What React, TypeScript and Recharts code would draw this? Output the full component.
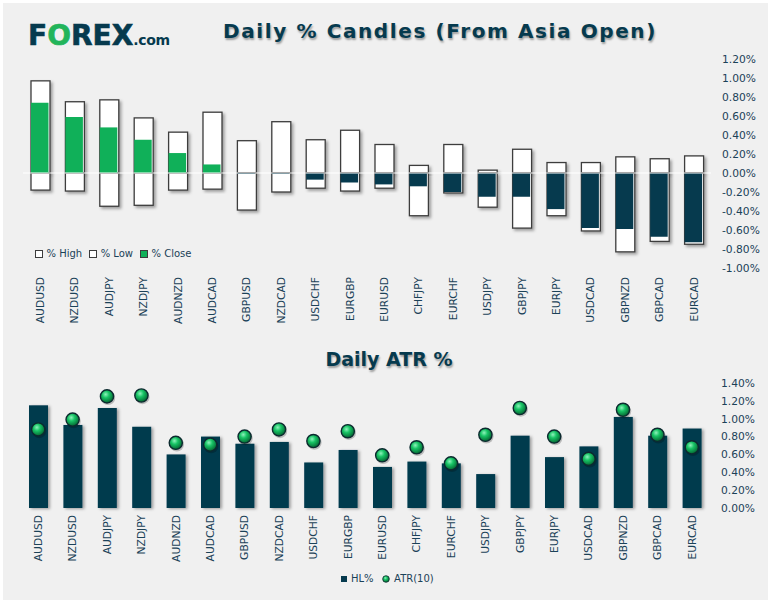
import * as React from "react";
import {
  Bar,
  Cell,
  ComposedChart,
  Legend,
  Line,
  ReferenceLine,
  XAxis,
  YAxis,
} from "recharts";

const PAIRS = [
  "AUDUSD", "NZDUSD", "AUDJPY", "NZDJPY", "AUDNZD", "AUDCAD", "GBPUSD",
  "NZDCAD", "USDCHF", "EURGBP", "EURUSD", "CHFJPY", "EURCHF", "USDJPY",
  "GBPJPY", "EURJPY", "USDCAD", "GBPNZD", "GBPCAD", "EURCAD",
];

// % moves since Asia open
const PCT_HIGH = [0.97, 0.75, 0.77, 0.58, 0.43, 0.64, 0.34, 0.54, 0.35, 0.45, 0.3, 0.08, 0.3, 0.03, 0.25, 0.11, 0.11, 0.17, 0.15, 0.18];
const PCT_LOW = [-0.18, -0.19, -0.35, -0.34, -0.18, -0.17, -0.39, -0.2, -0.16, -0.19, -0.16, -0.45, -0.21, -0.36, -0.58, -0.45, -0.61, -0.83, -0.72, -0.75];
const PCT_CLOSE = [0.74, 0.59, 0.48, 0.35, 0.21, 0.09, -0.01, -0.01, -0.07, -0.1, -0.12, -0.14, -0.2, -0.25, -0.25, -0.38, -0.58, -0.59, -0.67, -0.73];

// daily range vs ATR
const HL_PCT = [1.15, 0.93, 1.12, 0.91, 0.6, 0.8, 0.72, 0.74, 0.51, 0.65, 0.46, 0.52, 0.5, 0.38, 0.81, 0.57, 0.69, 1.02, 0.81, 0.89];
const ATR_10 = [0.88, 0.99, 1.25, 1.26, 0.73, 0.71, 0.8, 0.88, 0.75, 0.86, 0.59, 0.68, 0.5, 0.82, 1.12, 0.8, 0.55, 1.1, 0.82, 0.68];

const CANDLE_TICKS = [1.2, 1.0, 0.8, 0.6, 0.4, 0.2, 0, -0.2, -0.4, -0.6, -0.8, -1.0];
const ATR_TICKS = [0, 0.2, 0.4, 0.6, 0.8, 1.0, 1.2, 1.4];

const TEAL = "#063a4e";
const GREEN = "#10b059";
const TEXT = "#1b4258";
const BG = "#f0f0f0";
const BOX_STROKE = "#3c3c3c";
const FONT = "'DejaVu Sans', sans-serif";

const candleData = PAIRS.map((pair, i) => ({
  pair,
  high: PCT_HIGH[i],
  low: PCT_LOW[i],
  close: PCT_CLOSE[i],
}));

const atrData = PAIRS.map((pair, i) => ({ pair, hl: HL_PCT[i], atr: ATR_10[i] }));

const CANDLE_LEGEND = [
  { label: "% High", fill: "#ffffff" },
  { label: "% Low", fill: "#ffffff" },
  { label: "% Close", fill: GREEN },
];

const fmtPct = (v: number) => `${v.toFixed(2)}%`;

function PairTick(props: any) {
  const { x, y, payload } = props;
  return (
    <text
      transform={`translate(${x},${y}) rotate(-90)`}
      textAnchor="end"
      dy="0.36em"
      fontFamily={FONT}
      fontSize={10.7}
      fill={TEXT}
    >
      {payload.value}
    </text>
  );
}

function boxShape(p: any) {
  const top = Math.min(p.y, p.y + p.height);
  const h = Math.abs(p.height);
  return (
    <rect
      x={p.x}
      y={top}
      width={p.width}
      height={h}
      fill="#ffffff"
      stroke={BOX_STROKE}
      strokeWidth={1.3}
      filter="url(#boxShadow)"
    />
  );
}

function hlShape(p: any) {
  const top = Math.min(p.y, p.y + p.height);
  const h = Math.abs(p.height);
  return <rect x={p.x} y={top} width={p.width} height={h} fill={TEAL} filter="url(#hlShadow)" />;
}

function atrDot(p: any) {
  if (p.cx == null || p.cy == null) return <g key={p.index} />;
  return (
    <g key={`atr-${p.index}`}>
      <circle cx={p.cx + 1} cy={p.cy + 1.5} r={7.2} fill="rgba(0,0,0,0.22)" />
      <circle cx={p.cx} cy={p.cy} r={6.6} fill="url(#sphere)" stroke="#0c2a2f" strokeWidth={1.4} />
    </g>
  );
}

function CandleLegend() {
  return (
    <div style={{ display: "flex", alignItems: "center", fontFamily: FONT, fontSize: 10, color: TEXT, whiteSpace: "nowrap" }}>
      {CANDLE_LEGEND.map((item) => (
        <span key={item.label} style={{ display: "flex", alignItems: "center", marginRight: 7 }}>
          <span
            style={{
              display: "inline-block",
              width: 6,
              height: 6,
              background: item.fill,
              border: `1px solid ${BOX_STROKE}`,
              marginRight: 3.5,
            }}
          />
          {item.label}
        </span>
      ))}
    </div>
  );
}

function AtrLegend() {
  return (
    <div style={{ display: "flex", alignItems: "center", fontFamily: FONT, fontSize: 10, color: TEXT, whiteSpace: "nowrap" }}>
      <span style={{ display: "inline-block", width: 6, height: 6, background: TEAL, marginRight: 4 }} />
      <span style={{ marginRight: 8.5 }}>HL%</span>
      <svg width={8} height={8} style={{ marginRight: 4 }}>
        <defs>
          <radialGradient id="sphereLegend" cx="40%" cy="35%" r="65%">
            <stop offset="0%" stopColor="#8ef2bb" />
            <stop offset="40%" stopColor="#18c465" />
            <stop offset="100%" stopColor="#046632" />
          </radialGradient>
        </defs>
        <circle cx={4} cy={4} r={3.3} fill="url(#sphereLegend)" stroke="#0c2a2f" strokeWidth={0.8} />
      </svg>
      <span>ATR(10)</span>
    </div>
  );
}

const titleStyle: React.CSSProperties = {
  position: "absolute",
  fontFamily: FONT,
  fontWeight: "bold",
  color: TEAL,
  textShadow: "1px 2px 2px rgba(0,0,0,0.35)",
  whiteSpace: "nowrap",
  textAlign: "center",
};

export default function App() {
  return (
    <div style={{ position: "absolute", left: 0, top: 0, width: 772, height: 603, background: "#ffffff", overflow: "hidden" }}>
      <div style={{ position: "absolute", left: 3, top: 3, width: 765, height: 597, background: BG }} />

      {/* logo */}
      <div
        style={{
          position: "absolute",
          left: 28,
          top: 22,
          fontFamily: FONT,
          fontWeight: "bold",
          fontSize: 28,
          lineHeight: "28px",
          color: TEAL,
          whiteSpace: "nowrap",
          WebkitTextStroke: `0.6px ${TEAL}`,
        }}
      >
        F<span style={{ color: "#22b45a", WebkitTextStroke: "0.6px #22b45a" }}>O</span>REX
        <span style={{ fontSize: 14, letterSpacing: -0.3, WebkitTextStroke: "0px" }}>.com</span>
      </div>

      <div style={{ ...titleStyle, left: 200, width: 480, top: 21, fontSize: 20, lineHeight: "20px", letterSpacing: 1.6 }}>
        Daily % Candles (From Asia Open)
      </div>

      <div style={{ ...titleStyle, left: 289, width: 200, top: 350, fontSize: 19, lineHeight: "19px" }}>
        Daily ATR %
      </div>

      <div style={{ position: "absolute", left: 0, top: 0 }}>
        <ComposedChart width={772} height={330} data={candleData} margin={{ top: 59, right: 0, bottom: 0, left: 23 }}>
          <defs>
            <filter id="boxShadow" x="-40%" y="-20%" width="190%" height="150%">
              <feDropShadow dx="2" dy="2" stdDeviation="1.6" floodColor="#000" floodOpacity="0.35" />
            </filter>
          </defs>
          <XAxis
            xAxisId="box"
            dataKey="pair"
            interval={0}
            height={62}
            tickLine={false}
            axisLine={false}
            tickMargin={3}
            tick={<PairTick />}
          />
          <XAxis xAxisId="low" dataKey="pair" hide />
          <XAxis xAxisId="close" dataKey="pair" hide />
          <YAxis
            orientation="right"
            width={61}
            domain={[-1, 1.2]}
            ticks={CANDLE_TICKS}
            interval={0}
            tickFormatter={fmtPct}
            tickLine={false}
            axisLine={false}
            tickMargin={5}
            tick={{ fontFamily: FONT, fontSize: 10.7, fill: TEXT }}
          />
          <ReferenceLine xAxisId="box" y={0} stroke="#ffffff" strokeWidth={1.2} />
          <Bar xAxisId="box" dataKey="high" barSize={19} shape={boxShape} isAnimationActive={false} />
          <Bar xAxisId="low" dataKey="low" barSize={19} shape={boxShape} isAnimationActive={false} />
          <Bar xAxisId="close" dataKey="close" barSize={17.5} isAnimationActive={false}>
            {candleData.map((d) => (
              <Cell key={d.pair} fill={d.close >= 0 ? GREEN : TEAL} />
            ))}
          </Bar>
          <Legend
            layout="horizontal"
            verticalAlign="middle"
            align="center"
            content={<CandleLegend />}
            wrapperStyle={{ left: 35, top: 248, width: 220, height: 14 }}
          />
        </ComposedChart>
      </div>

      <div style={{ position: "absolute", left: 0, top: 330 }}>
        <ComposedChart width={772} height={273} data={atrData} margin={{ top: 53, right: 0, bottom: 45, left: 21 }}>
          <defs>
            <filter id="hlShadow" x="-40%" y="-20%" width="190%" height="150%">
              <feDropShadow dx="2" dy="1" stdDeviation="1.8" floodColor="#000" floodOpacity="0.35" />
            </filter>
            <radialGradient id="sphere" cx="40%" cy="35%" r="65%">
              <stop offset="0%" stopColor="#8ef2bb" />
              <stop offset="40%" stopColor="#18c465" />
              <stop offset="100%" stopColor="#046632" />
            </radialGradient>
          </defs>
          <XAxis
            dataKey="pair"
            interval={0}
            height={50}
            tickLine={false}
            axisLine={false}
            tickMargin={1}
            tick={<PairTick />}
          />
          <YAxis
            orientation="right"
            width={63}
            domain={[0, 1.4]}
            ticks={ATR_TICKS}
            interval={0}
            tickFormatter={fmtPct}
            tickLine={false}
            axisLine={false}
            tickMargin={6}
            tick={{ fontFamily: FONT, fontSize: 10.7, fill: TEXT }}
          />
          <Bar dataKey="hl" name="HL%" barSize={19} fill={TEAL} shape={hlShape} isAnimationActive={false} />
          <Line
            dataKey="atr"
            name="ATR(10)"
            stroke="none"
            dot={atrDot}
            activeDot={false}
            isAnimationActive={false}
          />
          <Legend
            layout="horizontal"
            verticalAlign="middle"
            align="center"
            content={<AtrLegend />}
            wrapperStyle={{ left: 341, top: 243, width: 120, height: 14 }}
          />
        </ComposedChart>
      </div>
    </div>
  );
}
